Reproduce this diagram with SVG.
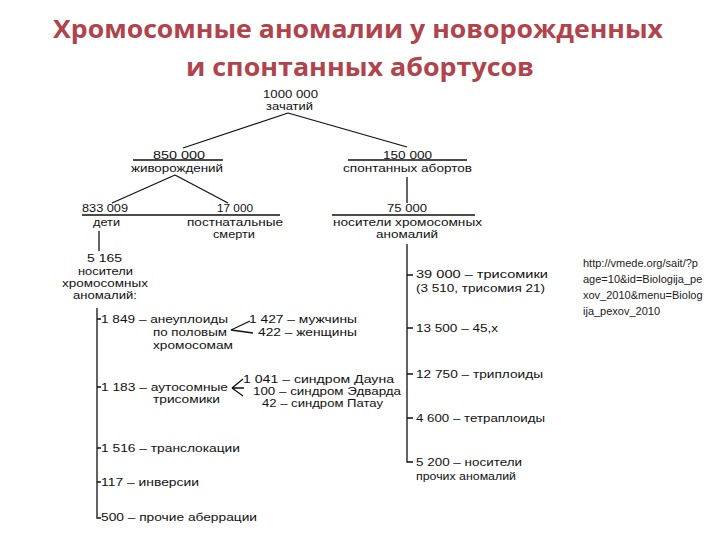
<svg xmlns="http://www.w3.org/2000/svg" width="720" height="540" viewBox="0 0 720 540">
<style>
.t{font-family:"Liberation Sans",Arial,sans-serif;font-size:11.5px;fill:#111}
.u{font-family:"Liberation Sans",Arial,sans-serif;font-size:11px;fill:#222}
.title{font-family:"Open Sans","Noto Sans",sans-serif;font-size:25px;font-weight:700;fill:#b0434c;text-anchor:middle}
.ln{stroke:#111;stroke-width:1.3;fill:none}
</style>
<rect width="720" height="540" fill="#fff"/>
<g id="title">
<text class="title" x="358" y="38" textLength="610" lengthAdjust="spacingAndGlyphs">Хромосомные аномалии у новорожденных</text>
<text class="title" x="360" y="76" textLength="348" lengthAdjust="spacingAndGlyphs">и спонтанных абортусов</text>
</g>
<g id="connectors" class="ln">
<path d="M288 113 L183 148 M288 113 L407 147"/>
<path d="M133 160 H223 M348 160 H467"/>
<path d="M175 175 L112 203 M175 175 L228 203"/>
<path d="M82 215 H280 M332 215 H475"/>
<path d="M99 231 V251"/>
<path d="M407 177 V203"/>
<path d="M97 308 V518 H101 M97 319 H101 M97 387 H101 M97 448 H101 M97 482 H101"/>
<path d="M407 244 V462 H413 M407 275 H413 M407 328 H413 M407 374 H413 M407 418 H413"/>
<path d="M231 330 L250 321 M231 330 L253 333"/>
<path d="M232 388 L243 379 M232 388 L244 388 M232 388 L243 396"/>
</g>
<g id="n-conceptions"><text class="t" x="263" y="98" textLength="55" lengthAdjust="spacingAndGlyphs">1000 000</text><text class="t" x="266" y="110" textLength="47" lengthAdjust="spacingAndGlyphs">зачатий</text></g>
<g id="n-live"><text class="t" x="153" y="159" textLength="52" lengthAdjust="spacingAndGlyphs">850 000</text><text class="t" x="131" y="172" textLength="92" lengthAdjust="spacingAndGlyphs">живорождений</text></g>
<g id="n-abort"><text class="t" x="383" y="159" textLength="49" lengthAdjust="spacingAndGlyphs">150 000</text><text class="t" x="343" y="172" textLength="129" lengthAdjust="spacingAndGlyphs">спонтанных абортов</text></g>
<g id="n-children"><text class="t" x="82" y="212" textLength="46" lengthAdjust="spacingAndGlyphs">833 009</text><text class="t" x="93" y="226" textLength="27" lengthAdjust="spacingAndGlyphs">дети</text></g>
<g id="n-postnatal"><text class="t" x="217" y="212" textLength="36" lengthAdjust="spacingAndGlyphs">17 000</text><text class="t" x="187" y="226" textLength="96" lengthAdjust="spacingAndGlyphs">постнатальные</text><text class="t" x="213" y="238" textLength="42" lengthAdjust="spacingAndGlyphs">смерти</text></g>
<g id="n-carriers-ab"><text class="t" x="387" y="212" textLength="40" lengthAdjust="spacingAndGlyphs">75 000</text><text class="t" x="333" y="226" textLength="149" lengthAdjust="spacingAndGlyphs">носители хромосомных</text><text class="t" x="376" y="238" textLength="62" lengthAdjust="spacingAndGlyphs">аномалий</text></g>
<g id="n-carriers-live"><text class="t" x="87" y="262" textLength="35" lengthAdjust="spacingAndGlyphs">5 165</text><text class="t" x="78" y="275" textLength="55" lengthAdjust="spacingAndGlyphs">носители</text><text class="t" x="62" y="287" textLength="86" lengthAdjust="spacingAndGlyphs">хромосомных</text><text class="t" x="73" y="299" textLength="64" lengthAdjust="spacingAndGlyphs">аномалий:</text></g>
<g id="n-sex"><text class="t" x="101" y="323" textLength="127" lengthAdjust="spacingAndGlyphs">1 849 – анеуплоиды</text><text class="t" x="153" y="336" textLength="74" lengthAdjust="spacingAndGlyphs">по половым</text><text class="t" x="153" y="349" textLength="80" lengthAdjust="spacingAndGlyphs">хромосомам</text></g>
<g id="n-male"><text class="t" x="249" y="323" textLength="108" lengthAdjust="spacingAndGlyphs">1 427 – мужчины</text></g>
<g id="n-female"><text class="t" x="258" y="336" textLength="99" lengthAdjust="spacingAndGlyphs">422 – женщины</text></g>
<g id="n-auto"><text class="t" x="101" y="391" textLength="127" lengthAdjust="spacingAndGlyphs">1 183 – аутосомные</text><text class="t" x="153" y="403" textLength="67" lengthAdjust="spacingAndGlyphs">трисомики</text></g>
<g id="n-down"><text class="t" x="243" y="383" textLength="151" lengthAdjust="spacingAndGlyphs">1 041 – синдром Дауна</text></g>
<g id="n-edwards"><text class="t" x="253" y="395" textLength="148" lengthAdjust="spacingAndGlyphs">100 – синдром Эдварда</text></g>
<g id="n-patau"><text class="t" x="262" y="407" textLength="121" lengthAdjust="spacingAndGlyphs">42 – синдром Патау</text></g>
<g id="n-transloc"><text class="t" x="101" y="452" textLength="139" lengthAdjust="spacingAndGlyphs">1 516 – транслокации</text></g>
<g id="n-inv"><text class="t" x="101" y="486" textLength="98" lengthAdjust="spacingAndGlyphs">117 – инверсии</text></g>
<g id="n-other"><text class="t" x="101" y="521" textLength="156" lengthAdjust="spacingAndGlyphs">500 – прочие аберрации</text></g>
<g id="n-tris"><text class="t" x="416" y="278" textLength="132" lengthAdjust="spacingAndGlyphs">39 000 – трисомики</text><text class="t" x="416" y="292" textLength="129" lengthAdjust="spacingAndGlyphs">(3 510, трисомия 21)</text></g>
<g id="n-45x"><text class="t" x="416" y="332" textLength="82" lengthAdjust="spacingAndGlyphs">13 500 – 45,х</text></g>
<g id="n-tripl"><text class="t" x="416" y="378" textLength="127" lengthAdjust="spacingAndGlyphs">12 750 – триплоиды</text></g>
<g id="n-tetra"><text class="t" x="416" y="422" textLength="129" lengthAdjust="spacingAndGlyphs">4 600 – тетраплоиды</text></g>
<g id="n-other-ab"><text class="t" x="416" y="466" textLength="106" lengthAdjust="spacingAndGlyphs">5 200 – носители</text><text class="t" x="416" y="480" textLength="100" lengthAdjust="spacingAndGlyphs">прочих аномалий</text></g>
<g id="url">
<text class="u" x="583" y="267">http://vmede.org/sait/?p</text>
<text class="u" x="583" y="283">age=10&amp;id=Biologija_pe</text>
<text class="u" x="583" y="299">xov_2010&amp;menu=Biolog</text>
<text class="u" x="583" y="315">ija_pexov_2010</text>
</g>
</svg>
